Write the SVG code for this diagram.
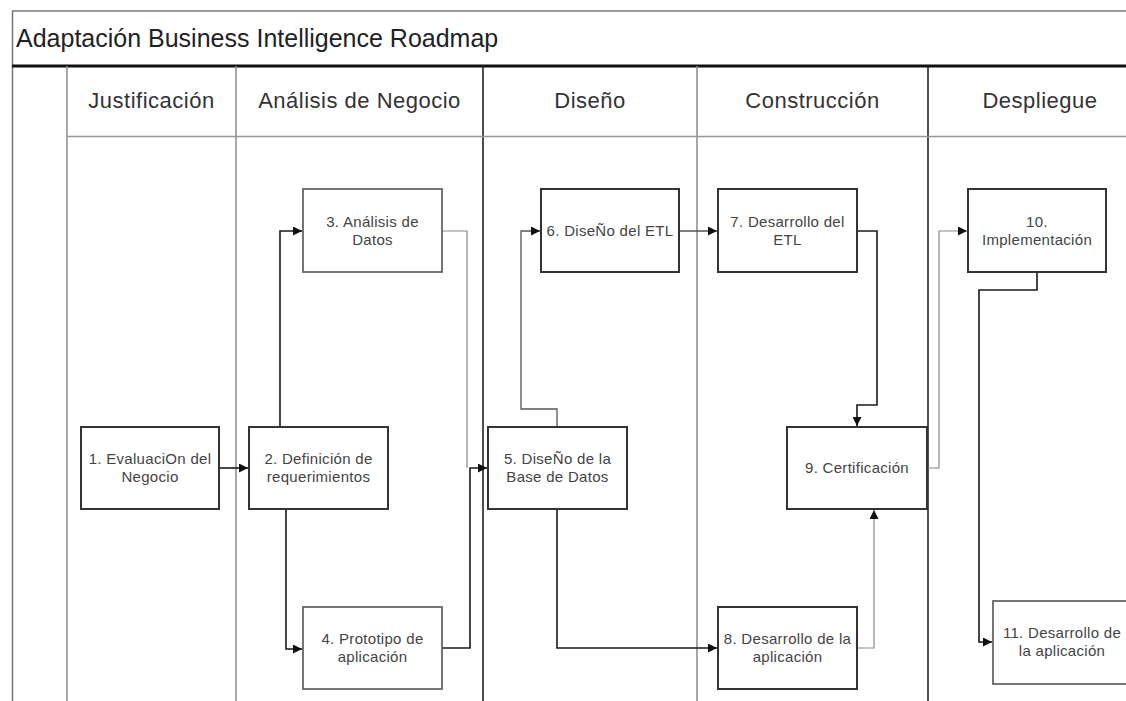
<svg xmlns="http://www.w3.org/2000/svg" width="1126" height="701" viewBox="0 0 1126 701">
  <style>
    .frame { stroke: #777; stroke-width: 1.5; fill: none; }
    .lane-dark { stroke: #222; stroke-width: 1.6; fill: none; }
    .lane-light { stroke: #8a8a8a; stroke-width: 1.5; fill: none; }
    .title { font-family: "Liberation Sans", Arial, sans-serif; font-size: 25px; fill: #222; }
    .hdr { font-family: "Liberation Sans", Arial, sans-serif; font-size: 22px; letter-spacing: 0.5px; fill: #333; text-anchor: middle; }
    .box { fill: #fff; stroke: #333; stroke-width: 2; }
    .box-light { fill: #fff; stroke: #666; stroke-width: 1.8; }
    .lbl { font-family: "Liberation Sans", Arial, sans-serif; font-size: 15px; letter-spacing: 0.3px; fill: #444; text-anchor: middle; }
    .c-dark { stroke: #1a1a1a; stroke-width: 1.6; fill: none; }
    .c-mid { stroke: #555; stroke-width: 1.3; fill: none; }
    .c-light { stroke: #888; stroke-width: 1.2; fill: none; }
  </style>
  <defs>
    <marker id="arrow" markerUnits="userSpaceOnUse" markerWidth="10" markerHeight="9" refX="9" refY="4.5" orient="auto">
      <path d="M0,0 L9,4.5 L0,9 z" fill="#111"/>
    </marker>
  </defs>

  <rect width="1126" height="701" fill="#fff"/>

  <!-- pool frame and title bar -->
  <g id="pool">
    <line class="frame" x1="12" y1="11" x2="1126" y2="11"/>
    <line class="frame" x1="12.5" y1="11" x2="12.5" y2="701"/>
    <line x1="12" y1="66" x2="1126" y2="66" stroke="#111" stroke-width="3"/>
    <text class="title" x="16" y="47">Adaptación Business Intelligence Roadmap</text>
  </g>

  <!-- swimlanes -->
  <g id="lanes">
    <line class="lane-light" x1="67" y1="66" x2="67" y2="701"/>
    <line class="lane-light" x1="236" y1="66" x2="236" y2="701"/>
    <line class="lane-dark" x1="483" y1="66" x2="483" y2="701"/>
    <line class="lane-light" x1="697" y1="66" x2="697" y2="701"/>
    <line class="lane-dark" x1="928" y1="66" x2="928" y2="701"/>
    <line x1="67" y1="136.5" x2="1126" y2="136.5" stroke="#999" stroke-width="1.5"/>
    <text class="hdr" x="151.5" y="108">Justificación</text>
    <text class="hdr" x="359.5" y="108">Análisis de Negocio</text>
    <text class="hdr" x="590" y="108">Diseño</text>
    <text class="hdr" x="812.5" y="108">Construcción</text>
    <text class="hdr" x="1040" y="108">Despliegue</text>
  </g>

  <!-- connectors -->
  <g id="connectors">
    <path class="c-dark" d="M219,468 H248" marker-end="url(#arrow)"/>
    <path class="c-dark" d="M280,427 V231 H302" marker-end="url(#arrow)"/>
    <path class="c-dark" d="M286,509 V649 H302" marker-end="url(#arrow)"/>
    <path class="c-light" d="M442,231 H467 V468"/>
    <path class="c-dark" d="M442,648 H470 V468 H487" marker-end="url(#arrow)"/>
    <path class="c-mid" d="M557,427 V409 H521 V231 H540" marker-end="url(#arrow)"/>
    <path class="c-dark" d="M557,509 V648 H717" marker-end="url(#arrow)"/>
    <path class="c-mid" d="M679,231 H717" marker-end="url(#arrow)"/>
    <path class="c-dark" d="M857,231 H877 V405 H857 V426" marker-end="url(#arrow)"/>
    <path class="c-light" d="M857,648 H874 V510" marker-end="url(#arrow)"/>
    <path class="c-light" d="M927,468 H939 V231 H967" marker-end="url(#arrow)"/>
    <path class="c-dark" d="M1037,272 V290 H979 V642 H992" marker-end="url(#arrow)"/>
  </g>

  <!-- activities -->
  <g id="n1">
    <rect class="box" x="81" y="427" width="138" height="82"/>
    <text class="lbl" x="150" y="464">1. EvaluaciOn del</text>
    <text class="lbl" x="150" y="482">Negocio</text>
  </g>
  <g id="n2">
    <rect class="box" x="249" y="427" width="139" height="82"/>
    <text class="lbl" x="318.5" y="464">2. Definición de</text>
    <text class="lbl" x="318.5" y="482">requerimientos</text>
  </g>
  <g id="n3">
    <rect class="box-light" x="303" y="189" width="139" height="83"/>
    <text class="lbl" x="372.5" y="227">3. Análisis de</text>
    <text class="lbl" x="372.5" y="245">Datos</text>
  </g>
  <g id="n4">
    <rect class="box-light" x="303" y="607" width="139" height="82"/>
    <text class="lbl" x="372.5" y="644">4. Prototipo de</text>
    <text class="lbl" x="372.5" y="662">aplicación</text>
  </g>
  <g id="n5">
    <rect class="box" x="488" y="427" width="139" height="82"/>
    <text class="lbl" x="557.5" y="464">5. DiseÑo de la</text>
    <text class="lbl" x="557.5" y="482">Base de Datos</text>
  </g>
  <g id="n6">
    <rect class="box" x="541" y="189" width="138" height="83"/>
    <text class="lbl" x="610" y="236">6. DiseÑo del ETL</text>
  </g>
  <g id="n7">
    <rect class="box" x="718" y="189" width="139" height="83"/>
    <text class="lbl" x="787.5" y="227">7. Desarrollo del</text>
    <text class="lbl" x="787.5" y="245">ETL</text>
  </g>
  <g id="n8">
    <rect class="box" x="718" y="607" width="139" height="82"/>
    <text class="lbl" x="787.5" y="644">8. Desarrollo de la</text>
    <text class="lbl" x="787.5" y="662">aplicación</text>
  </g>
  <g id="n9">
    <rect class="box" x="787" y="427" width="140" height="82"/>
    <text class="lbl" x="857" y="473">9. Certificación</text>
  </g>
  <g id="n10">
    <rect class="box" x="968" y="189" width="138" height="83"/>
    <text class="lbl" x="1037" y="227">10.</text>
    <text class="lbl" x="1037" y="245">Implementación</text>
  </g>
  <g id="n11">
    <rect class="box-light" x="993" y="601" width="139" height="83"/>
    <text class="lbl" x="1062" y="638">11. Desarrollo de</text>
    <text class="lbl" x="1062" y="656">la aplicación</text>
  </g>
</svg>
